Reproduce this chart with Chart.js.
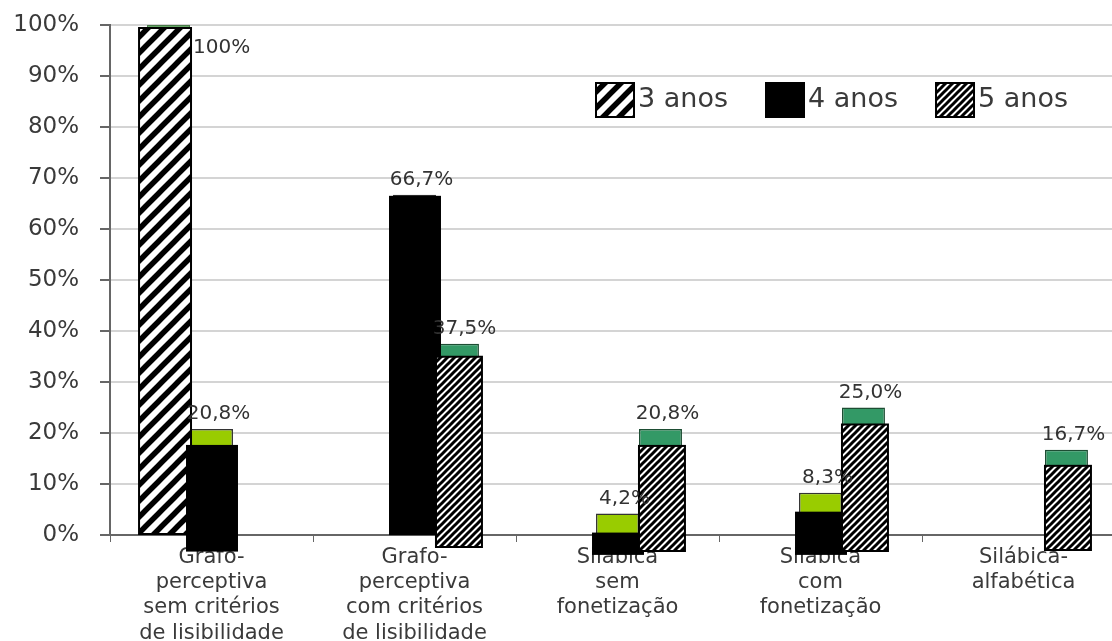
<!DOCTYPE html>
<html>
<head>
<meta charset="utf-8">
<script src="https://cdn.jsdelivr.net/npm/chart.js@4.4.1/dist/chart.umd.min.js"></script>
<style>
  html, body { margin: 0; padding: 0; background: #fff; overflow: hidden; }
  #wrap { position: absolute; left: 0; top: 0; width: 1125px; height: 641px; }
</style>
</head>
<body>
<div id="wrap"><canvas id="c" width="1125" height="641"></canvas></div>
<script>
// data
const categories = [
  ['Grafo-', 'perceptiva', 'sem critérios', 'de lisibilidade'],
  ['Grafo-', 'perceptiva', 'com critérios', 'de lisibilidade'],
  ['Silábica', 'sem', 'fonetização'],
  ['Silábica', 'com', 'fonetização'],
  ['Silábica-', 'alfabética']
]
const seriesNames = ['3 anos', '4 anos', '5 anos']
const anos3 = [100, 0, 0, 0, 0]
const anos4 = [20.8, 66.7, 4.2, 8.3, 0]
const anos5 = [0, 37.5, 20.8, 25.0, 16.7]
const yTicks = [0, 10, 20, 30, 40, 50, 60, 70, 80, 90, 100]

const FONT = '"DejaVu Sans", Verdana, sans-serif'
const canvas = document.getElementById('c')
const ctx0 = canvas.getContext('2d')

// diagonal hatch tiles, lines run well past the tile so no seams
function stripes(size, width) {
  const t = document.createElement('canvas')
  t.width = t.height = size
  const g = t.getContext('2d')
  g.fillStyle = '#fff'
  g.fillRect(0, 0, size, size)
  g.strokeStyle = '#000'
  g.lineWidth = width
  g.beginPath()
  for (let k = -2 * size; k <= 2 * size; k += size) {
    g.moveTo(k - size, 2 * size)
    g.lineTo(k + 2 * size, -size)
  }
  g.stroke()
  return ctx0.createPattern(t, 'repeat')
}
const wideHatch = stripes(16, 5.5)
const fineHatch = stripes(7, 3)

const fmt = v => v === 100 ? '100%' : v.toFixed(1).replace('.', ',') + '%'

// pasted-over rectangles on top of the coloured bars
const overlayPlugin = {
  id: 'overlay',
  afterDatasetsDraw(chart) {
    const ctx = chart.ctx
    ctx.save()
    chart.data.datasets.forEach((ds, i) => {
      const st = ds.overlay
      chart.getDatasetMeta(i).data.forEach((bar, j) => {
        if (ds.data[j] == null) return
        const p = bar.getProps(['x', 'y', 'base', 'width'], true)
        const d = st.drop[j]
        const x0 = p.x - p.width / 2 - st.left
        const x1 = p.x + p.width / 2 + st.right
        const y0 = p.y + d
        const y1 = p.base + d * st.sink
        ctx.fillStyle = st.fill
        ctx.fillRect(x0, y0, x1 - x0, y1 - y0)
        if (st.border) {
          ctx.strokeStyle = '#000'
          ctx.lineWidth = 2
          ctx.strokeRect(x0, y0, x1 - x0, y1 - y0)
        }
      })
    })
    ctx.restore()
  }
}

const labelPlugin = {
  id: 'labels',
  afterDraw(chart) {
    const ctx = chart.ctx
    const area = chart.chartArea
    ctx.save()
    ctx.font = '20px ' + FONT
    ctx.fillStyle = '#333'
    chart.data.datasets.forEach((ds, i) => {
      chart.getDatasetMeta(i).data.forEach((bar, j) => {
        const v = ds.data[j]
        if (v == null) return
        const p = bar.getProps(['x', 'y', 'width'], true)
        if (p.y - 26 < area.top) {
          ctx.textAlign = 'left'
          ctx.textBaseline = 'middle'
          ctx.fillText(fmt(v), p.x + p.width / 2 + 3, p.y + 23)
        } else {
          ctx.textAlign = 'center'
          ctx.textBaseline = 'bottom'
          ctx.fillText(fmt(v), p.x + 7, p.y - 5)
        }
      })
    })
    // legend inside the plot
    ctx.font = '27px ' + FONT
    let x = area.left + 486
    const top = area.top + 58
    chart.data.datasets.forEach(ds => {
      ctx.fillStyle = ds.overlay.fill
      ctx.fillRect(x, top, 38, 34)
      ctx.strokeStyle = '#000'
      ctx.lineWidth = 2
      ctx.strokeRect(x, top, 38, 34)
      ctx.fillStyle = '#3a3a3a'
      ctx.textAlign = 'left'
      ctx.textBaseline = 'middle'
      ctx.fillText(ds.label, x + 42, top + 17)
      x += 38 + 4 + ctx.measureText(ds.label).width + 38
    })
    ctx.restore()
  }
}

const nz = arr => arr.map(v => v || null)

new Chart(canvas, {
  type: 'bar',
  data: {
    labels: categories,
    datasets: [
      {
        label: seriesNames[0], data: nz(anos3),
        backgroundColor: '#66a866', borderColor: '#4a7a4a', borderWidth: 1,
        overlay: { fill: wideHatch, border: true, drop: [3, 0, 0, 0, 0], sink: 0, left: 8, right: 1 }
      },
      {
        label: seriesNames[1], data: nz(anos4),
        backgroundColor: '#99cc00', borderColor: '#333', borderWidth: 1.5,
        overlay: { fill: '#000', border: false, drop: [16, 1, 19, 19, 0], sink: 1.1, left: 4, right: 5 }
      },
      {
        label: seriesNames[2], data: nz(anos5),
        backgroundColor: '#339966', borderColor: '#1d4d33', borderWidth: 1.5,
        overlay: { fill: fineHatch, border: true, drop: [0, 13, 17, 17, 16], sink: 1, left: 0, right: 3 }
      }
    ]
  },
  options: {
    responsive: false,
    animation: false,
    devicePixelRatio: 1,
    layout: { padding: { top: 25, left: 0, right: 0, bottom: 0 } },
    datasets: { bar: { categoryPercentage: 0.635, barPercentage: 1 } },
    plugins: { legend: { display: false }, tooltip: { enabled: false } },
    scales: {
      x: {
        afterFit: s => { s.height = 106; s.paddingLeft = 0; s.paddingRight = 0 },
        grid: { drawOnChartArea: false, drawTicks: true, tickLength: 7, offset: true, color: '#666', tickColor: '#666' },
        border: { display: true, color: '#666', width: 2 },
        ticks: {
          autoSkip: false, maxRotation: 0, minRotation: 0, padding: 3,
          color: '#3a3a3a', font: { family: FONT, size: 21, lineHeight: 1.2 }
        }
      },
      y: {
        min: 0, max: 100,
        afterFit: s => { s.width = 110; s.paddingTop = 0; s.paddingBottom = 0 },
        afterBuildTicks: s => { s.ticks = yTicks.map(v => ({ value: v })) },
        grid: { color: '#d4d4d4', lineWidth: 2, tickLength: 10, tickColor: '#666' },
        border: { display: true, color: '#666', width: 2 },
        ticks: {
          padding: 21, color: '#3a3a3a', font: { family: FONT, size: 23 },
          callback: v => v + '%'
        }
      }
    }
  },
  plugins: [overlayPlugin, labelPlugin]
})
</script>
</body>
</html>
